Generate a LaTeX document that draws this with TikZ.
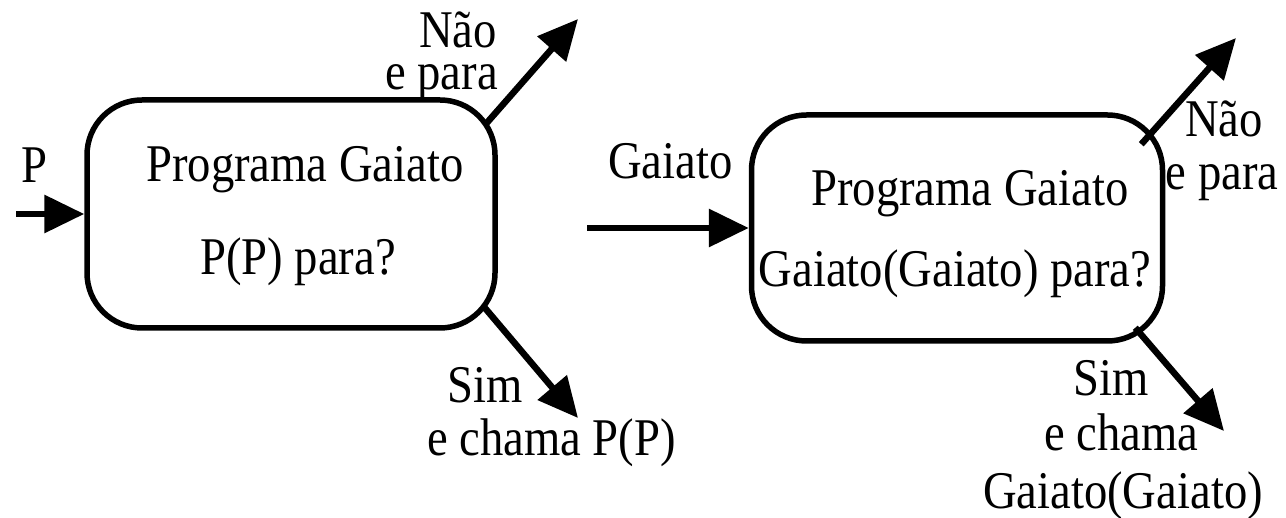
\documentclass[tikz,border=0pt]{standalone}
\usepackage{fontspec}
\setmainfont{Liberation Serif}[FakeStretch=0.88]
\usepackage{tikz}
\usetikzlibrary{shapes,arrows,positioning,calc,arrows.meta}
\tikzstyle{arrow} = [-{Triangle[length=40pt,width=37pt]}, line width=6.5pt]
\tikzstyle{txt} = [inner sep=0pt, font=\fontsize{53}{56}\selectfont]
\tikzstyle{prog} = [rectangle, rounded corners=55pt, draw, line width=5.5pt, minimum width=408pt, minimum height=228pt]

\begin{document}
\begin{tikzpicture}[x=1pt, y=-1pt]
    \useasboundingbox (0,0) rectangle (1286,518);
    % Programs
    \node[prog] (box1) at (291,214) {};
    \node[prog, minimum width=411pt, minimum height=226pt] (box2) at (957,228) {};
    \node[txt, anchor=base] (prog1) at (305,182) {Programa Gaiato};
    \node[txt, anchor=base] (ask1) at (298,275) {P(P) para?};
    \node[txt, anchor=base] (prog2) at (970,206) {Programa Gaiato};
    \node[txt, anchor=base] (ask2) at (955,287) {Gaiato(Gaiato) para?};

    % Inputs
    \coordinate (inP) at (16,214);
    \coordinate (inG) at (587,228);
    \node[txt, anchor=base] (lblP) at (34,183) {P};
    \node[txt, anchor=base west] (lblG) at (608,179) {Gaiato};
    \draw[arrow] (inP) -- (box1);
    \draw[arrow] (inG) -- (box2);

    % Answers of the first program
    \coordinate (nao1) at (578,19);
    \coordinate (sim1) at (578,418);
    \draw[arrow] ($(box1.north east)+(-13,28)$) -- (nao1);
    \draw[arrow] ($(box1.south east)+(-13,-23)$) -- (sim1);
    \node[txt, anchor=base east] (naoA) at (497,48) {Não};
    \node[txt, anchor=base east] (paraA) at (498,90) {e para};
    \node[txt, anchor=base west] (simA) at (447,403) {Sim};
    \node[txt, anchor=base west] (chamaA) at (427,456) {e chama P(P)};

    % Answers of the second program
    \coordinate (nao2) at (1236,38);
    \coordinate (sim2) at (1224,431);
    \draw[arrow] ($(box2.north east)+(-24,32)$) -- (nao2);
    \draw[arrow] ($(box2.south east)+(-30,-16)$) -- (sim2);
    \node[txt, anchor=base] (naoB) at (1224,137) {Não};
    \node[txt, anchor=base] (paraB) at (1222,190) {e para};
    \node[txt, anchor=base west] (simB) at (1073,396) {Sim};
    \node[txt, anchor=base west] (chamaB) at (1044,451) {e chama};
    \node[txt, anchor=base east] (callB) at (1263,508) {Gaiato(Gaiato)};
\end{tikzpicture}
\end{document}
